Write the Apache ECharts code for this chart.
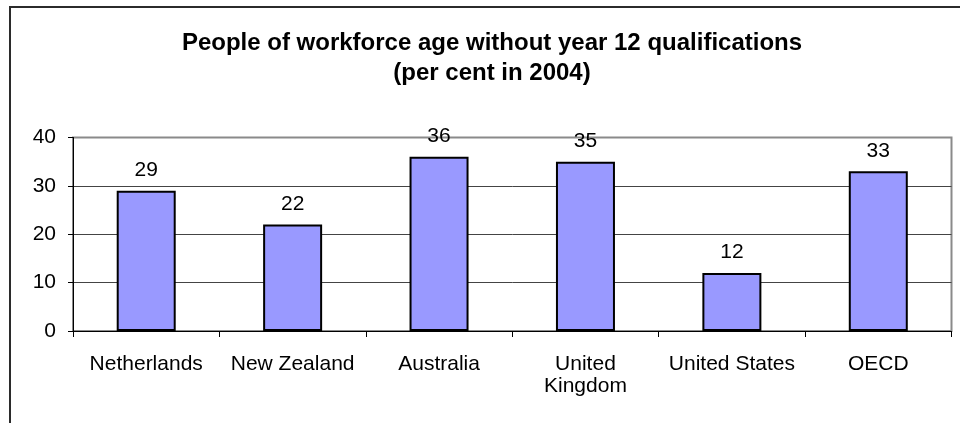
<!DOCTYPE html>
<html>
<head>
<meta charset="utf-8">
<title>People of workforce age without year 12 qualifications</title>
<script src="https://cdn.jsdelivr.net/npm/echarts@6/dist/echarts.min.js"></script>
<style>
  html, body { margin: 0; padding: 0; background: #fff; }
  #chart { width: 960px; height: 423px; }
</style>
</head>
<body>
<div id="chart"></div>
<script>
// Share of workforce-age people without year 12 qualifications, 2004 (per cent)
const categories = ['Netherlands', 'New Zealand', 'Australia', 'United\nKingdom', 'United States', 'OECD'];
const values = [29, 22, 36, 35, 12, 33];
const yTicks = { min: 0, max: 40, interval: 10 };

const FONT = '"Liberation Sans", Arial, sans-serif';

const chart = echarts.init(document.getElementById('chart'), null, { renderer: 'canvas' });

chart.setOption({
  animation: false,
  backgroundColor: '#ffffff',
  title: {
    text: 'People of workforce age without year 12 qualifications\n(per cent in 2004)',
    left: 487,
    top: 23,
    textAlign: 'center',
    textStyle: {
      fontFamily: FONT,
      fontSize: 24,
      fontWeight: 'bold',
      color: '#000',
      lineHeight: 30,
      align: 'center'
    }
  },
  graphic: [{
    // chart-area frame
    type: 'rect',
    shape: { x: 10, y: 7, width: 1000, height: 1000 },
    style: { fill: 'none', stroke: '#2b2b2b', lineWidth: 2 },
    silent: true
  }],
  grid: {
    left: 73,
    top: 137.5,
    right: 8.5,
    bottom: 92,
    show: true,
    borderColor: '#8a8a8a',
    borderWidth: 2,
    backgroundColor: '#fff'
  },
  xAxis: {
    type: 'category',
    data: categories,
    boundaryGap: true,
    axisLine: { show: true, lineStyle: { color: '#000', width: 1 } },
    axisTick: { show: true, alignWithLabel: false, inside: false, length: 6, lineStyle: { color: '#000' } },
    axisLabel: {
      interval: 0,
      margin: 22,
      fontFamily: FONT,
      fontSize: 21,
      lineHeight: 22,
      color: '#000'
    },
    splitLine: { show: false }
  },
  yAxis: {
    type: 'value',
    min: yTicks.min,
    max: yTicks.max,
    interval: yTicks.interval,
    axisLine: { show: true, lineStyle: { color: '#000', width: 1 } },
    axisTick: { show: true, inside: false, length: 5, lineStyle: { color: '#000' } },
    axisLabel: {
      margin: 17,
      fontFamily: FONT,
      fontSize: 21,
      color: '#000'
    },
    splitLine: {
      show: true,
      showMinLine: false,
      showMaxLine: false,
      lineStyle: { color: '#444', width: 1 }
    }
  },
  series: [{
    type: 'bar',
    data: values,
    barWidth: 59,
    itemStyle: {
      color: '#9999ff',
      borderColor: '#000',
      borderWidth: 2
    },
    label: {
      show: true,
      position: 'top',
      distance: 10,
      fontFamily: FONT,
      fontSize: 21,
      color: '#000'
    }
  }]
});
</script>
</body>
</html>
